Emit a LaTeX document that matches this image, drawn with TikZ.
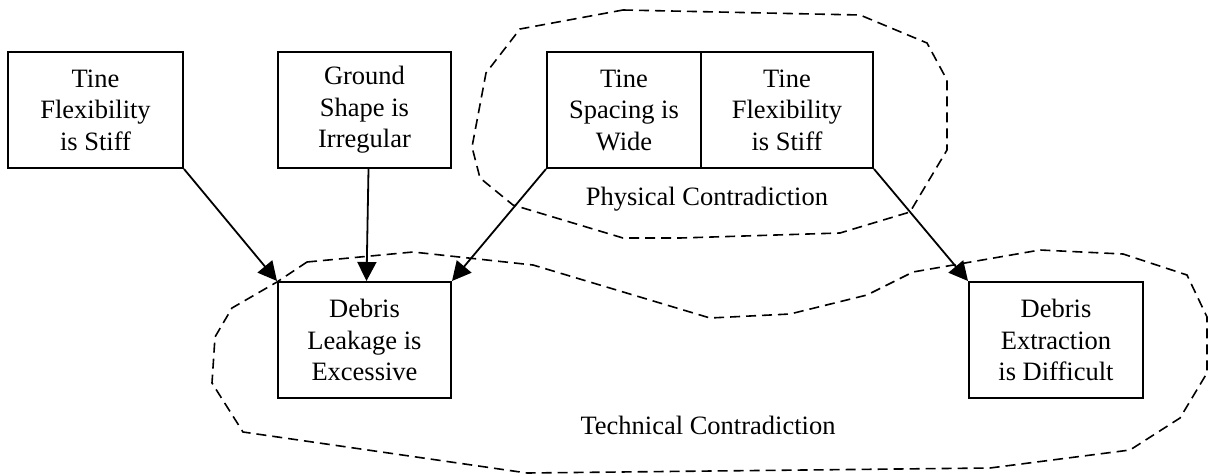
\documentclass[tikz,border=0pt]{standalone}
\usepackage{fontspec}
\setmainfont{Liberation Serif}
\usetikzlibrary{arrows.meta}
\begin{document}
\begin{tikzpicture}[x=1pt,y=-1pt,
  box/.style={draw, line width=2pt, rectangle, inner sep=0pt, minimum height=116pt,
    align=center, font=\fontsize{26.5}{31.5}\selectfont},
  link/.style={line width=1.8pt, -{Triangle[length=19pt,width=19pt]}},
  region/.style={dash pattern=on 10pt off 6pt, line width=1.6pt},
  caption/.style={font=\fontsize{26.5}{31.5}\selectfont}]
\useasboundingbox (0,0) rectangle (1208,476);

% cause boxes on the top row
\node[box, minimum width=175pt] (flexA) at (95.5,110) {Tine\\Flexibility\\is Stiff};
\node[box, minimum width=173pt] (ground) at (364.5,110) {Ground\\Shape is\\Irregular};
\node[box, minimum width=154pt] (spacing) at (624,110) {Tine\\Spacing is\\Wide};
\node[box, minimum width=172pt] (flexB) at (787,110) {Tine\\Flexibility\\is Stiff};

% effect boxes on the bottom row
\node[box, minimum width=173pt] (leak) at (364.5,340) {Debris\\Leakage is\\Excessive};
\node[box, minimum width=174pt] (extract) at (1056,340) {Debris\\Extraction\\is Difficult};

% causal links
\draw[link] (flexA.south east) -- (leak.north west);
\draw[link] ([xshift=4pt]ground.south) -- ([xshift=2pt]leak.north);
\draw[link] (spacing.south west) -- (leak.north east);
\draw[link] (flexB.south east) -- (extract.north west);

% physical contradiction outline
\draw[region] (623,10) -- (860,15) -- (927,43) -- (947,80) -- (947,150) -- (910,212)
  -- (840,233) -- (680,238) -- (623,238) -- (513,205) -- (480,178) -- (472,147)
  -- (486,73) -- (520,29) -- cycle;
\node[caption] (phys) at (707,199) {Physical Contradiction};

% technical contradiction outline
\draw[region] (307,262) -- (413,252) -- (533,265) -- (700,315) -- (710,318)
  -- (790,314) -- (867,295) -- (913,272) -- (1040,250) -- (1123,254) -- (1187,275)
  -- (1207,317) -- (1207,373) -- (1180,418) -- (1130,450) -- (990,468) -- (527,473)
  -- (243,432) -- (212,383) -- (215,337) -- (232,308) -- (277,282) -- cycle;
\node[caption] (tech) at (708,425) {Technical Contradiction};
\end{tikzpicture}
\end{document}
